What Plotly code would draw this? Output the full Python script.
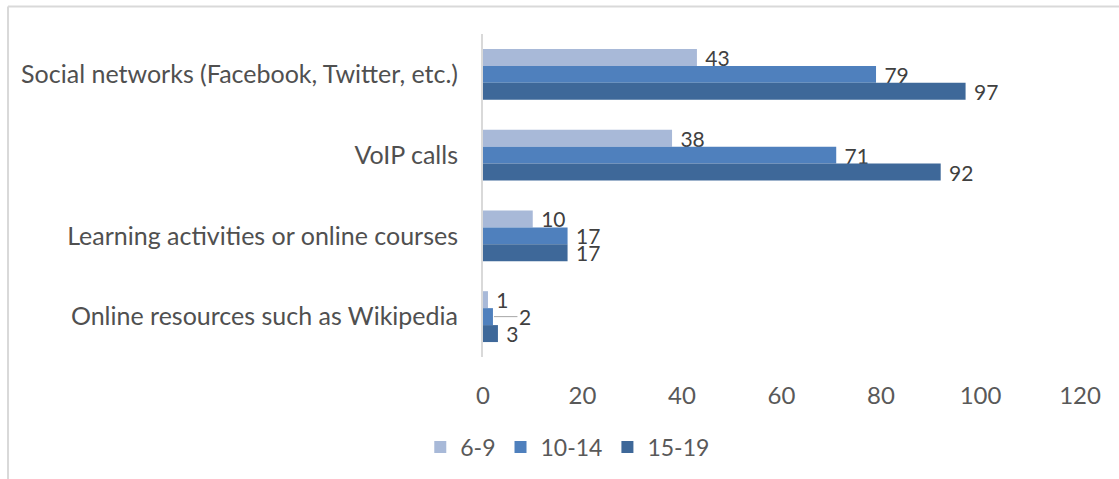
import plotly.graph_objects as go

categories = [
    "Social networks (Facebook, Twitter, etc.)",
    "VoIP calls",
    "Learning activities or online courses",
    "Online resources such as Wikipedia",
]
age_6_9 = [43, 38, 10, 1]
age_10_14 = [79, 71, 17, 2]
age_15_19 = [97, 92, 17, 3]
x_ticks = [0, 20, 40, 60, 80, 100, 120]

series = [
    ("6-9", age_6_9, "#A8B9D8"),
    ("10-14", age_10_14, "#4F80BD"),
    ("15-19", age_15_19, "#3E6899"),
]

FONT = "Lato, Open Sans, sans-serif"
LABEL_FONT = dict(size=21, color="#404040", family=FONT)

fig = go.Figure()
for name, values, color in series:
    labels = [" " + str(v) for v in values]
    if name == "10-14":
        # this tiny bar gets a leader-line label instead (added below)
        labels[-1] = ""
    fig.add_trace(
        go.Bar(
            y=categories,
            x=values,
            name=name,
            orientation="h",
            marker=dict(color=color, line=dict(width=0)),
            text=labels,
            texttemplate="%{text}",
            textposition="outside",
            constraintext="none",
            textfont=LABEL_FONT,
            cliponaxis=False,
        )
    )

fig.add_annotation(
    x=age_10_14[-1],
    y=categories[-1],
    text=str(age_10_14[-1]),
    showarrow=True,
    arrowhead=0,
    arrowwidth=1,
    arrowcolor="#A6A6A6",
    ax=32,
    ay=0,
    standoff=1,
    font=LABEL_FONT,
)

fig.update_layout(
    width=1119,
    height=479,
    margin=dict(l=483, r=39, t=34, b=121),
    barmode="group",
    bargap=0.37,
    bargroupgap=0,
    plot_bgcolor="white",
    paper_bgcolor="white",
    font=dict(family=FONT, size=24, color="#505050"),
    showlegend=True,
    legend=dict(
        orientation="h",
        x=0.142,
        xanchor="center",
        y=-0.275,
        yanchor="middle",
        font=dict(size=23, color="#595959"),
        traceorder="normal",
    ),
)

fig.update_xaxes(
    range=[0, 120],
    tickvals=x_ticks,
    showgrid=False,
    zeroline=False,
    showline=False,
    ticks="",
    tickfont=dict(size=24, color="#595959"),
    ticklabelstandoff=22,
)
fig.update_yaxes(
    autorange="reversed",
    showgrid=False,
    showline=True,
    linecolor="#D9D9D9",
    linewidth=2,
    ticks="",
    tickfont=dict(size=25, color="#505050"),
    ticklabelstandoff=18,
)

# light frame around the chart area
fig.add_shape(type="line", xref="paper", yref="paper",
              x0=-0.7956, x1=1.07, y0=1.0849, y1=1.0849,
              line=dict(color="#D9D9D9", width=2))
fig.add_shape(type="line", xref="paper", yref="paper",
              x0=-0.7956, x1=-0.7956, y0=1.0849, y1=-0.38,
              line=dict(color="#D9D9D9", width=2))

fig.write_html(
    "out.html",
    config={"displayModeBar": False},
    post_script="document.body.style.margin='0px';",
)
